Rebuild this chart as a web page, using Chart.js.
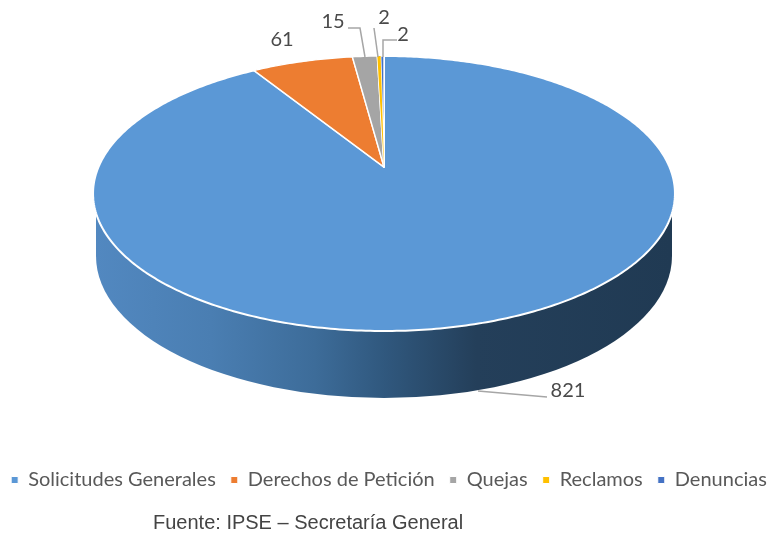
<!DOCTYPE html>
<html><head><meta charset="utf-8">
<style>html,body{margin:0;padding:0;background:#fff}canvas{display:block}</style>
<script src="https://cdn.jsdelivr.net/npm/chart.js@4"></script>
</head><body>
<canvas id="c" width="770" height="534"></canvas>
<script>
const categories = ['Solicitudes Generales','Derechos de Petición','Quejas','Reclamos','Denuncias'];
const values = [821,61,15,2,2];
const colors = ['#5B98D6','#ED7D31','#A5A5A5','#FFC000','#4472C4'];
const footnote = 'Fuente: IPSE – Secretaría General';

// perspective projection of the pie's top face
const apex = {x:384,y:167}, P = {k:285.5,a:132.4,c:-0.1927};
function project(phi){
  const x=Math.cos(phi), y=Math.sin(phi), d=1+P.c*y;
  return [apex.x+P.k*x/d, apex.y+P.a*y/d];
}
const leaders = [
  {i:4,text:[403,35],line:[[397,40],[383,40],[383,57]]},
  {i:3,text:[384,18],line:[[374,28],[378,57]]},
  {i:2,text:[333,22],line:[[348,28],[360,28],[365,57]]},
  {i:1,text:[282,40],line:[]},
  {i:0,text:[568,391],line:[[478,391],[547,397]]}
];

function slicePath(ctx,a){
  const n=Math.max(2,Math.ceil((a.endAngle-a.startAngle)*80));
  ctx.beginPath();ctx.moveTo(apex.x,apex.y);
  for(let s=0;s<=n;s++){
    const p=project(a.startAngle+(a.endAngle-a.startAngle)*s/n);
    ctx.lineTo(p[0],p[1]);
  }
  ctx.closePath();
}

const pie3d = {
  id:'pie3d',
  beforeDatasetsDraw(chart){
    const ctx=chart.ctx, arcs=chart.getDatasetMeta(0).data;
    // side wall
    ctx.save();
    const g=ctx.createLinearGradient(96,0,672,0);
    g.addColorStop(0,'#5288C0');g.addColorStop(.2,'#4A7EB2');g.addColorStop(.38,'#3D6C99');
    g.addColorStop(.5,'#30587E');g.addColorStop(.66,'#243F5A');g.addColorStop(1,'#203A53');
    ctx.fillStyle=g;
    ctx.beginPath();ctx.moveTo(96,200);ctx.lineTo(96,256);
    ctx.ellipse(384,256,288,142,0,Math.PI,0,true);
    ctx.lineTo(672,200);ctx.closePath();ctx.fill();
    // top face
    arcs.forEach((a,i)=>{
      slicePath(ctx,a);
      ctx.fillStyle=colors[i];ctx.fill();
      ctx.lineJoin='round';ctx.strokeStyle='#fff';ctx.lineWidth=i===0?2:1.4;ctx.stroke();
    });
    // the thin yellow slice stays visible over its neighbours' borders
    slicePath(ctx,arcs[3]);ctx.fillStyle=colors[3];ctx.fill();
    ctx.restore();
    return false;
  },
  afterDraw(chart){
    const ctx=chart.ctx;
    ctx.save();
    ctx.strokeStyle='#A6A6A6';ctx.lineWidth=1.5;
    ctx.fillStyle='#4A4A4A';ctx.font='20px Lato';ctx.textAlign='center';ctx.textBaseline='middle';
    leaders.forEach(l=>{
      if(l.line.length){
        ctx.beginPath();l.line.forEach((p,j)=>j?ctx.lineTo(p[0],p[1]):ctx.moveTo(p[0],p[1]));ctx.stroke();
      }
      ctx.fillText(String(values[l.i]),l.text[0],l.text[1]);
    });
    ctx.font='20px "Liberation Sans"';ctx.textAlign='left';ctx.fillStyle='#444';
    ctx.fillText(footnote,153,523);
    ctx.restore();
  }
};

new Chart(document.getElementById('c'),{
  type:'pie',
  data:{labels:categories,datasets:[{data:values,backgroundColor:colors,borderColor:'#fff',borderWidth:1}]},
  plugins:[pie3d],
  options:{
    responsive:false,animation:false,
    layout:{padding:{top:0,bottom:34,left:-8,right:-16}},
    plugins:{
      tooltip:{enabled:false},
      legend:{position:'bottom',labels:{boxWidth:7,boxHeight:7,padding:15,color:'#595959',font:{family:'Lato',size:20}}}
    }
  }
});
</script>
</body></html>
